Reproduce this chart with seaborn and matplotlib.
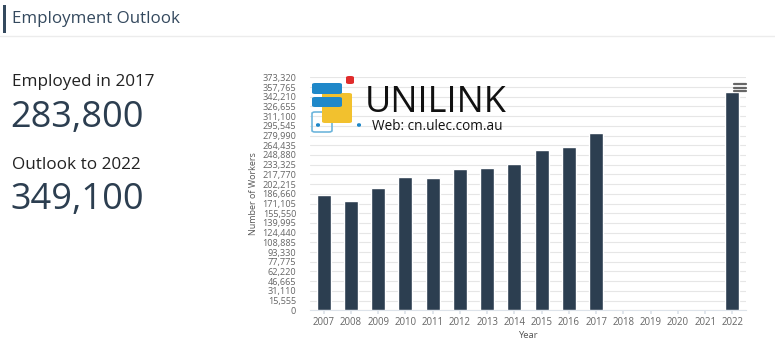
import matplotlib
matplotlib.use("Agg")
import matplotlib.pyplot as plt
from matplotlib.patches import FancyBboxPatch, Rectangle
import seaborn as sns
import pandas as pd
import numpy as np

years = ["2007", "2008", "2009", "2010", "2011", "2012", "2013", "2014",
         "2015", "2016", "2017", "2018", "2019", "2020", "2021", "2022"]
workers = [184300, 175700, 195500, 213800, 211700, 226200, 228300, 234700,
           256300, 262100, 283800, None, None, None, None, 349100]
y_ticks = [0, 15555, 31110, 46665, 62220, 77775, 93330, 108885, 124440,
           139995, 155550, 171105, 186660, 202215, 217770, 233325, 248880,
           264435, 279990, 295545, 311100, 326655, 342210, 357765, 373320]
employed_label = "Employed in 2017"
employed_value = "283,800"
outlook_label = "Outlook to 2022"
outlook_value = "349,100"

sns.set_theme(style="white")
plt.rcParams['font.family'] = ['Open Sans', 'DejaVu Sans']

W, H = 775, 353
fig = plt.figure(figsize=(W / 100, H / 100), dpi=100)
fig.patch.set_facecolor("white")

def fx(px):
    return px / W

def fy(py):
    return 1 - py / H

# Header
fig.add_artist(Rectangle((fx(3), fy(33)), fx(3), (28) / H, transform=fig.transFigure,
                         color="#34495e", lw=0))
fig.text(fx(12), fy(19), "Employment Outlook", fontsize=12.2, color="#34495e",
         va="center", ha="left")
fig.add_artist(plt.Line2D([fx(0), fx(775)], [fy(36), fy(36)], transform=fig.transFigure,
                          color="#ececec", lw=1))

# Left stats
fig.text(fx(12), fy(82), employed_label, fontsize=12.3, color="#222222", va="center")
fig.text(fx(10), fy(118), employed_value, fontsize=26, color="#2c3e50", va="center")
fig.text(fx(12), fy(165), outlook_label, fontsize=12.3, color="#222222", va="center")
fig.text(fx(10), fy(200), outlook_value, fontsize=26, color="#2c3e50", va="center")

# Chart
ax = fig.add_axes([fx(310), fy(310.3), fx(746) - fx(310), (310.3 - 77.3) / H])
df = pd.DataFrame({"Year": years, "Workers": workers}).dropna()
sns.barplot(data=df, x="Year", y="Workers", order=years, color="#2c3e50",
            saturation=1, width=0.52, ax=ax, zorder=3)
ax.set_ylim(0, 373320)
ax.set_xlim(-0.5, len(years) - 0.5)
ax.set_yticks(y_ticks)
ax.set_yticklabels([f"{v:,}" for v in y_ticks])
ax.grid(axis="y", color="#e6e6e6", lw=0.8, zorder=0)
ax.grid(axis="x", visible=False)
for s in ["top", "right", "left"]:
    ax.spines[s].set_visible(False)
ax.spines["bottom"].set_color("#dde3ea")
ax.spines["bottom"].set_linewidth(0.8)
ax.tick_params(axis="y", labelsize=6.6, labelcolor="#666666", length=0, pad=10)
ax.tick_params(axis="x", labelsize=6.9, labelcolor="#666666", length=3,
               color="#dde3ea", pad=2, bottom=True)
ax.set_xlabel("Year", fontsize=6.8, color="#555555", labelpad=2)
ax.set_ylabel("Number of Workers", fontsize=6.5, color="#555555", labelpad=3)

# Hamburger menu
for dy in (84, 87.5, 91):
    fig.add_artist(plt.Line2D([fx(734), fx(746)], [fy(dy), fy(dy)], transform=fig.transFigure,
                              color="#666666", lw=1.6))

# Watermark logo
def rbox(x0, y0, w, h, color, fill=True, lw=0):
    p = FancyBboxPatch((fx(x0), fy(y0 + h)), fx(w), h / H,
                       boxstyle="round,pad=0,rounding_size=0.004",
                       transform=fig.transFigure, facecolor=color if fill else "none",
                       edgecolor=color, lw=lw, zorder=10)
    fig.add_artist(p)

rbox(312, 112, 20, 20, "#6fb6dc", fill=False, lw=1.2)
rbox(322, 93, 30, 30, "#f2c12e")
rbox(312, 83, 30, 11, "#1f88c9")
rbox(312, 97, 30, 10, "#1f88c9")
rbox(346, 76, 8, 8, "#e02b2b")
rbox(316, 123, 4, 4, "#1f88c9")
rbox(357, 123, 4, 4, "#1f88c9")
fig.text(fx(365), fy(103), "UNILINK", fontsize=26, color="#111111", va="center",
         ha="left", zorder=11)
fig.text(fx(372), fy(127), "Web: cn.ulec.com.au", fontsize=9.8, color="#111111",
         va="center", ha="left", zorder=11)

fig.savefig("out.png", dpi=100, facecolor="white")
